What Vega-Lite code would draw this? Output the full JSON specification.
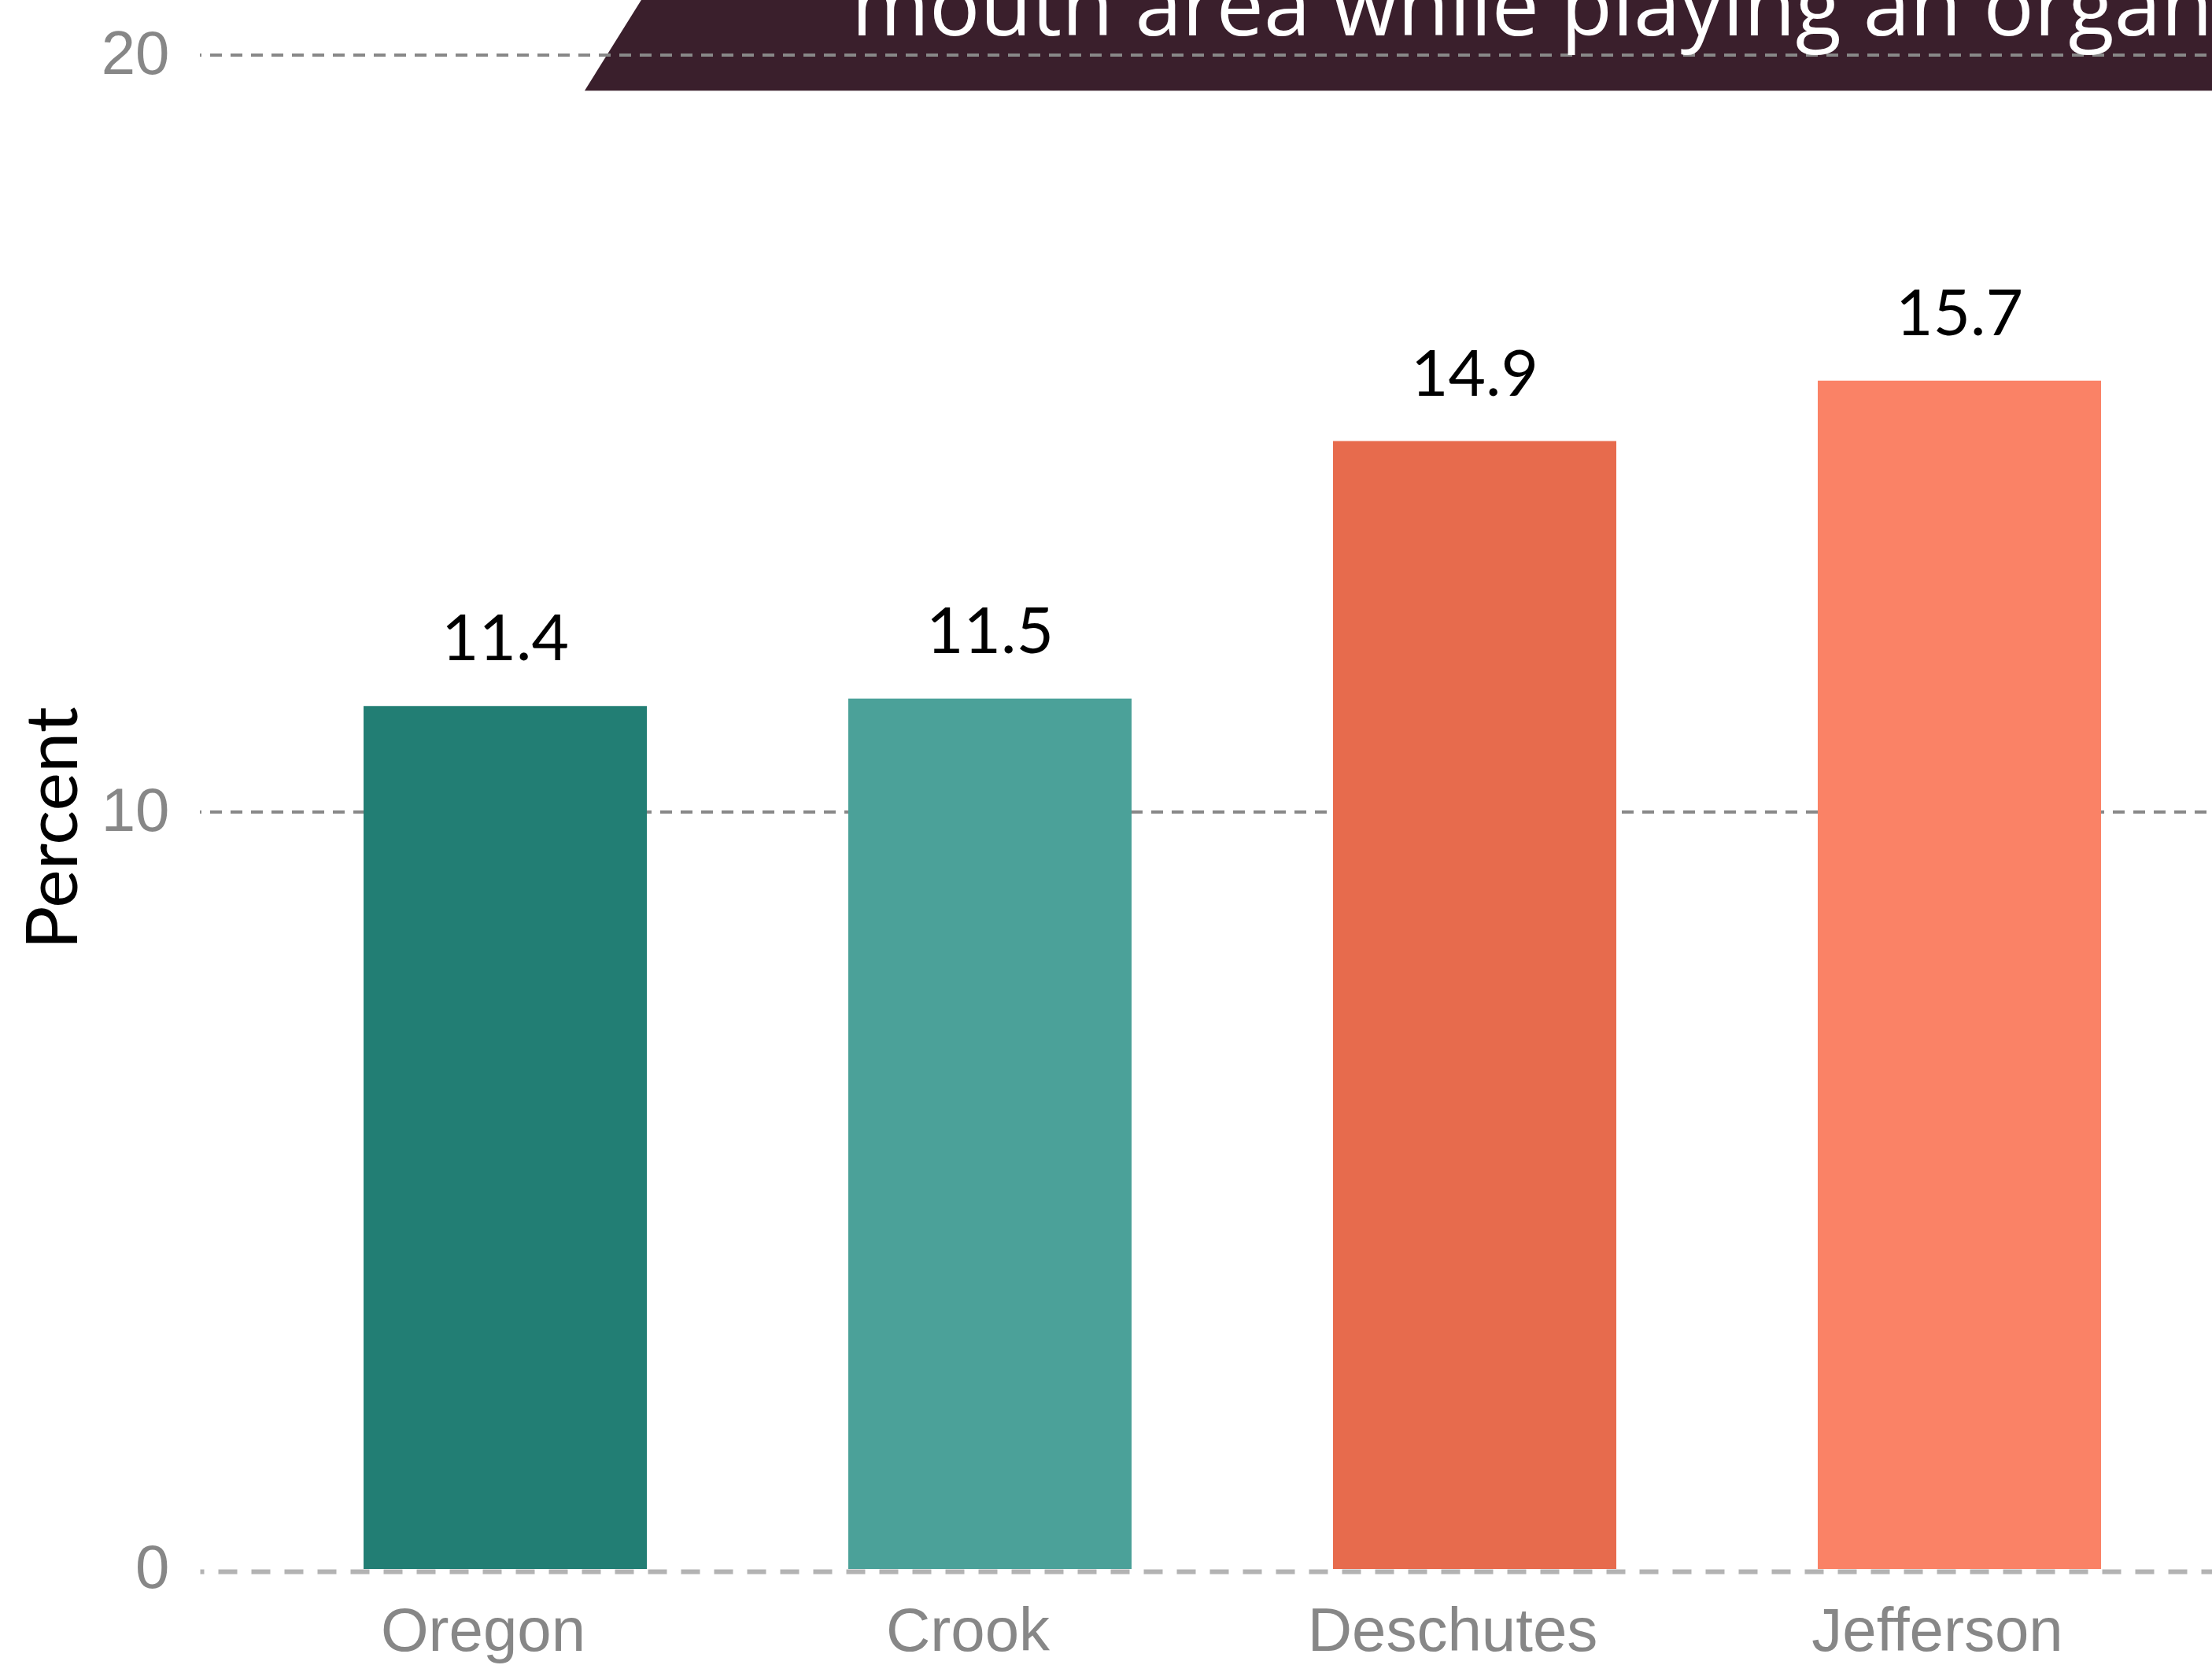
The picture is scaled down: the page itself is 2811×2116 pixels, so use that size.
{
  "$schema": "https://vega.github.io/schema/vega-lite/v6.json",
  "width": 2557,
  "height": 1924,
  "autosize": {"type": "none"},
  "padding": {"left": 254, "top": 70, "right": 0, "bottom": 122},
  "background": "white",
  "config": {"view": {"stroke": null}},
  "data": {
    "values": [
      {"county": "Oregon", "percent": 11.4},
      {"county": "Crook", "percent": 11.5},
      {"county": "Deschutes", "percent": 14.9},
      {"county": "Jefferson", "percent": 15.7}
    ]
  },
  "layer": [
    {
      "data": {"values": [{"part": "banner"}]},
      "mark": {
        "type": "point",
        "shape": "M 1.01 0 L 2.04 -1.65 L 23 -1.65 L 23 0 Z",
        "size": 40000,
        "filled": true,
        "color": "#3a1f2c",
        "opacity": 1,
        "strokeWidth": 0,
        "clip": false
      },
      "encoding": {
        "x": {"datum": "Oregon"},
        "y": {"datum": 19.53}
      }
    },
    {
      "data": {"values": [{"v": 10}, {"v": 20}]},
      "mark": {
        "type": "rule",
        "color": "#888888",
        "strokeWidth": 4,
        "strokeDash": [15, 11],
        "strokeDashOffset": 19
      },
      "encoding": {
        "y": {"field": "v", "type": "quantitative"}
      }
    },
    {
      "mark": {"type": "bar"},
      "encoding": {
        "x": {
          "field": "county",
          "type": "nominal",
          "sort": null,
          "scale": {
            "domain": ["Oregon", "Crook", "Deschutes", "Jefferson"],
            "paddingInner": 0.4156,
            "paddingOuter": 0.2833,
            "align": 0.596
          },
          "axis": {
            "title": null,
            "ticks": false,
            "tickSize": 0,
            "domainColor": "#b3b3b3",
            "domainWidth": 6,
            "domainDash": [24, 18],
            "domainDashOffset": 19,
            "offset": 3,
            "labelFont": "Liberation Sans",
            "labelFontSize": 78,
            "labelColor": "#878787",
            "labelPadding": 100,
            "labelBaseline": "alphabetic",
            "labelAlign": "center",
            "labelOffset": -28,
            "labelAngle": 0,
            "labelLimit": 0,
            "labelOverlap": false
          }
        },
        "y": {
          "field": "percent",
          "type": "quantitative",
          "scale": {"domain": [0, 20], "nice": false},
          "axis": {
            "values": [0, 10, 20],
            "format": "d",
            "grid": false,
            "domain": false,
            "ticks": false,
            "tickSize": 0,
            "labelFlush": false,
            "labelFont": "Liberation Sans",
            "labelFontSize": 78,
            "labelColor": "#878787",
            "labelPadding": 39,
            "title": "Percent",
            "titleFont": "Lato",
            "titleFontSize": 92,
            "titleFontWeight": "normal",
            "titleColor": "#000000",
            "titlePadding": 12,
            "titleY": 982
          }
        },
        "color": {
          "field": "county",
          "type": "nominal",
          "scale": {
            "domain": ["Oregon", "Crook", "Deschutes", "Jefferson"],
            "range": ["#227e74", "#4ba199", "#e76b4d", "#fa8266"]
          },
          "legend": null
        }
      }
    },
    {
      "mark": {
        "type": "text",
        "font": "Lato",
        "fontSize": 82,
        "color": "#000000",
        "baseline": "alphabetic",
        "dy": -58
      },
      "encoding": {
        "x": {"field": "county", "type": "nominal", "sort": null},
        "y": {"field": "percent", "type": "quantitative"},
        "text": {"field": "percent", "type": "quantitative", "format": ".1f"}
      }
    },
    {
      "data": {"values": [{"t": "mouth area while playing an organized sport"}]},
      "mark": {
        "type": "text",
        "font": "Open Sans",
        "fontSize": 107,
        "color": "#ffffff",
        "align": "left",
        "baseline": "alphabetic",
        "dx": 440,
        "clip": false
      },
      "encoding": {
        "x": {"datum": "Oregon"},
        "y": {"datum": 20.26},
        "text": {"field": "t", "type": "nominal"}
      }
    }
  ]
}
